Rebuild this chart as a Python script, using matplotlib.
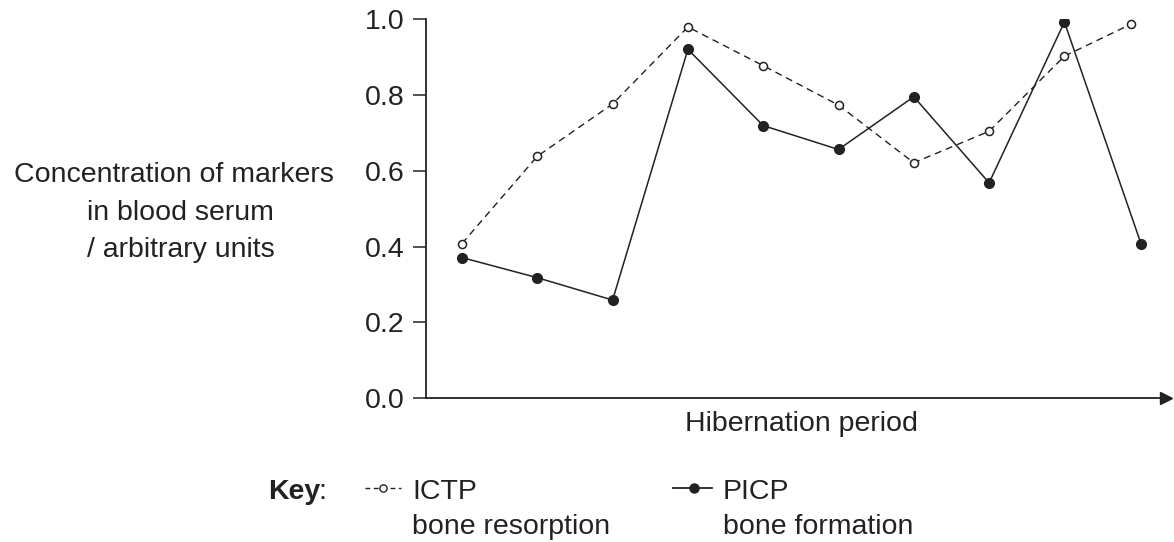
import matplotlib
matplotlib.use("Agg")
import matplotlib.pyplot as plt
from matplotlib.lines import Line2D

plt.rcParams['font.family'] = ['Liberation Sans', 'DejaVu Sans']

# Data (time points along hibernation period, arbitrary positions)
ictp_x = [0, 1, 2, 3, 4, 5, 6, 7, 8, 8.88]
ictp_y = [0.408, 0.638, 0.776, 0.979, 0.877, 0.773, 0.621, 0.704, 0.902, 0.986]
picp_x = [0, 1, 2, 3, 4, 5, 6, 7, 8, 9.02]
picp_y = [0.371, 0.318, 0.259, 0.920, 0.719, 0.656, 0.795, 0.568, 0.992, 0.406]
yticks = [0.0, 0.2, 0.4, 0.6, 0.8, 1.0]
ytick_labels = ["0.0", "0.2", "0.4", "0.6", "0.8", "1.0"]
ylabel_lines = ["Concentration of markers", "in blood serum", "/ arbitrary units"]
xlabel = "Hibernation period"

W, H = 1174, 542
FS = 20.5
fig = plt.figure(figsize=(W / 100, H / 100), dpi=100)
left, right, bottom, top = 426, 1166, 398.3, 19
ax = fig.add_axes([left / W, (H - bottom) / H, (right - left) / W, (bottom - top) / H])

col = '#222222'
ax.plot(ictp_x, ictp_y, color=col, lw=1.0, linestyle=(0, (5, 3.5)),
        marker='o', markersize=5.8, markerfacecolor='white', markeredgecolor=col,
        markeredgewidth=1.1, zorder=3)
ax.plot(picp_x, picp_y, color=col, lw=1.1, linestyle='-',
        marker='o', markersize=7, markerfacecolor=col, markeredgecolor=col, zorder=4)

x0_px = 462
step = 75.3
ax.set_xlim((left - x0_px) / step, (right - x0_px) / step)
ax.set_ylim(0, 1.0)
ax.set_yticks(yticks)
ax.set_yticklabels(ytick_labels, fontsize=FS, color=col)
ax.set_xticks([])
ax.tick_params(axis='y', direction='out', length=9.4, width=1.1, color=col, pad=5.8)
for s in ['top', 'right']:
    ax.spines[s].set_visible(False)
for s in ['left', 'bottom']:
    ax.spines[s].set_color(col)
    ax.spines[s].set_linewidth(1.3)
ax.plot([1.0], [0], marker='>', markersize=8, color=col, transform=ax.transAxes,
        clip_on=False)

# overlay in pixel coordinates for text and key
ov = fig.add_axes([0, 0, 1, 1])
ov.set_xlim(0, W)
ov.set_ylim(H, 0)
ov.axis('off')
ov.patch.set_alpha(0)

ov.text(801, 431, xlabel, fontsize=FS, color=col, ha='center', va='baseline')
for (cx, by), line in zip([(174, 182), (180, 220), (181, 257)], ylabel_lines):
    ov.text(cx, by, line, fontsize=FS, color=col, ha='center', va='baseline')

base1, base2 = 499, 534
kt = ov.text(268, base1, "Key", fontsize=FS, fontweight='bold', color=col, ha='left',
             va='baseline')
ov.text(318, base1, ":", fontsize=FS, color=col, ha='left', va='baseline')

ymid = 488
ov.add_line(Line2D([365, 401], [ymid, ymid], color=col, lw=1.0, linestyle=(0, (3.5, 2.5))))
ov.plot([383], [ymid], marker='o', markersize=5.2, markerfacecolor='white',
        markeredgecolor=col, markeredgewidth=1.0)
ov.text(412, base1, "ICTP", fontsize=FS, color=col, ha='left', va='baseline')
ov.text(412, base2, "bone resorption", fontsize=FS, color=col, ha='left', va='baseline')

ov.add_line(Line2D([673, 712], [ymid, ymid], color=col, lw=1.3))
ov.plot([694], [ymid], marker='o', markersize=6.5, color=col)
ov.text(723, base1, "PICP", fontsize=FS, color=col, ha='left', va='baseline')
ov.text(723, base2, "bone formation", fontsize=FS, color=col, ha='left', va='baseline')

fig.savefig("out.png", dpi=100, facecolor='white')
